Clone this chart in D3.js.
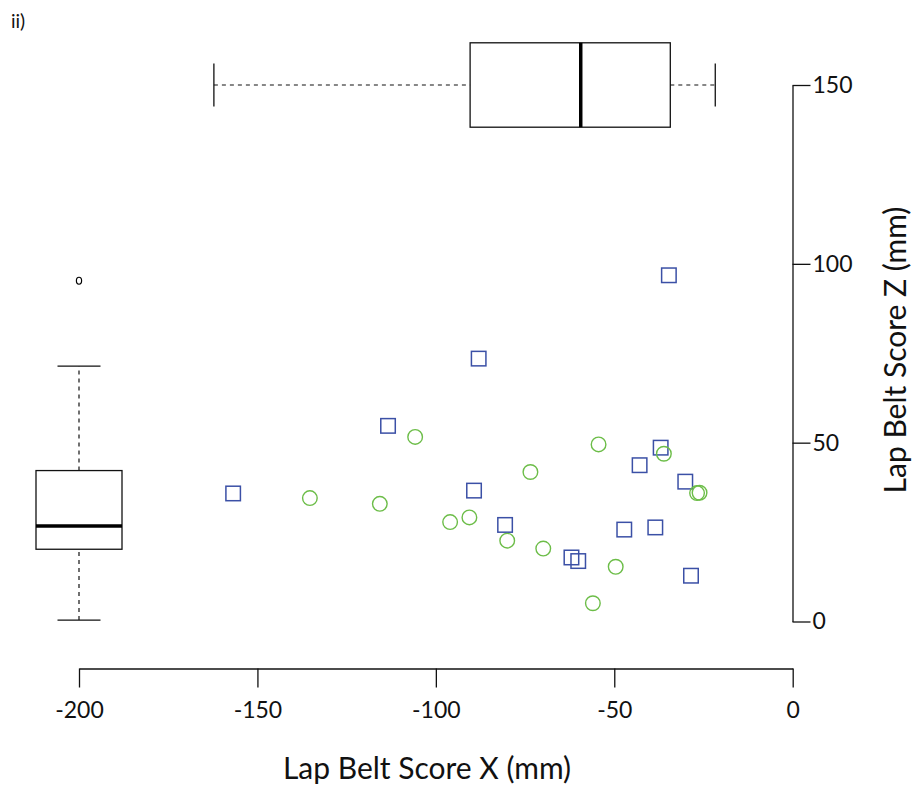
<!DOCTYPE html>
<html>
<head>
<meta charset="utf-8">
<script src="https://cdn.jsdelivr.net/npm/d3@7"></script>
<style>
    body { margin: 0; background: #fff; }
    svg { display: block; font-family: "Myriad Pro", Lato, "Open Sans", sans-serif; }
</style>
</head>
<body>
<div id="chart"></div>
<script>
// squares (blue)
const square_x = [-88.0, -113.4, -156.8, -89.3, -34.7, -37.0, -42.9, -30.1, -80.6, -62.0, -60.1, -47.2, -38.5, -28.5];
const square_z = [73.5, 54.7, 35.8, 36.6, 96.8, 48.6, 43.7, 39.1, 27.0, 17.9, 16.9, 25.7, 26.3, 12.8];
// circles (green)
const circle_x = [-105.8, -135.3, -115.7, -96.0, -90.6, -54.4, -36.1, -73.5, -26.8, -26.1, -80.0, -69.9, -49.6, -56.0];
const circle_z = [51.6, 34.5, 32.9, 27.8, 29.1, 49.5, 46.9, 41.8, 35.9, 36.0, 22.6, 20.4, 15.3, 5.1];

// box plot summaries: [whisker low, q1, median, q3, whisker high]
const box_x = [-162.2, -90.4, -59.4, -34.3, -21.7];
const box_z = [0.4, 20.2, 26.7, 42.2, 71.4];
const outliers_z = [95.3];

const x_ticks = [-200, -150, -100, -50, 0];
const z_ticks = [0, 50, 100, 150];

const width = 912;
const height = 787;

const svg = d3.select("#chart")
    .append("svg")
    .attr("width", width)
    .attr("height", height);

const x = d3.scaleLinear()
    .domain([-200, 0])
    .range([79, 792.7]);

const y = d3.scaleLinear()
    .domain([0, 150])
    .range([621.5, 85]);

const blue = "#3b50a6";
const green = "#6cbd48";

// points
const sq = 14.5;
svg.append("g")
    .selectAll("rect")
    .data(square_x)
    .join("rect")
        .attr("x", (d, i) => x(d) - sq / 2)
        .attr("y", (d, i) => y(square_z[i]) - sq / 2)
        .attr("width", sq)
        .attr("height", sq)
        .attr("fill", "none")
        .attr("stroke", blue)
        .attr("stroke-width", 1.5);

svg.append("g")
    .selectAll("circle")
    .data(circle_x)
    .join("circle")
        .attr("cx", d => x(d))
        .attr("cy", (d, i) => y(circle_z[i]))
        .attr("r", 7.3)
        .attr("fill", "none")
        .attr("stroke", green)
        .attr("stroke-width", 1.4);

// horizontal box plot of X, sits at z = 150
function hbox (g) {
    const cy = y(150);
    const hw = 42.2;
    const cap = 21.5;
    g.append("line")
        .attr("x1", x(box_x[0])).attr("x2", x(box_x[1]))
        .attr("y1", cy).attr("y2", cy)
        .attr("stroke", "#111").attr("stroke-width", 1.2).attr("stroke-dasharray", "4,4");
    g.append("line")
        .attr("x1", x(box_x[3])).attr("x2", x(box_x[4]))
        .attr("y1", cy).attr("y2", cy)
        .attr("stroke", "#111").attr("stroke-width", 1.2).attr("stroke-dasharray", "4,4");
    g.append("line")
        .attr("x1", x(box_x[0])).attr("x2", x(box_x[0]))
        .attr("y1", cy - cap).attr("y2", cy + cap)
        .attr("stroke", "#111").attr("stroke-width", 1.3);
    g.append("line")
        .attr("x1", x(box_x[4])).attr("x2", x(box_x[4]))
        .attr("y1", cy - cap).attr("y2", cy + cap)
        .attr("stroke", "#111").attr("stroke-width", 1.3);
    g.append("rect")
        .attr("x", x(box_x[1]))
        .attr("y", cy - hw)
        .attr("width", x(box_x[3]) - x(box_x[1]))
        .attr("height", hw * 2)
        .attr("fill", "none").attr("stroke", "#111").attr("stroke-width", 1.3);
    g.append("line")
        .attr("x1", x(box_x[2])).attr("x2", x(box_x[2]))
        .attr("y1", cy - hw).attr("y2", cy + hw)
        .attr("stroke", "#000").attr("stroke-width", 3.5);
}

// vertical box plot of Z, sits at x = -200
function vbox (g) {
    const cx = x(-200);
    const hw = 43;
    const cap = 21.5;
    g.append("line")
        .attr("x1", cx).attr("x2", cx)
        .attr("y1", y(box_z[0])).attr("y2", y(box_z[1]))
        .attr("stroke", "#111").attr("stroke-width", 1.2).attr("stroke-dasharray", "4,4");
    g.append("line")
        .attr("x1", cx).attr("x2", cx)
        .attr("y1", y(box_z[3])).attr("y2", y(box_z[4]))
        .attr("stroke", "#111").attr("stroke-width", 1.2).attr("stroke-dasharray", "4,4");
    g.append("line")
        .attr("x1", cx - cap).attr("x2", cx + cap)
        .attr("y1", y(box_z[0])).attr("y2", y(box_z[0]))
        .attr("stroke", "#111").attr("stroke-width", 1.3);
    g.append("line")
        .attr("x1", cx - cap).attr("x2", cx + cap)
        .attr("y1", y(box_z[4])).attr("y2", y(box_z[4]))
        .attr("stroke", "#111").attr("stroke-width", 1.3);
    g.append("rect")
        .attr("x", cx - hw)
        .attr("y", y(box_z[3]))
        .attr("width", hw * 2)
        .attr("height", y(box_z[1]) - y(box_z[3]))
        .attr("fill", "none").attr("stroke", "#111").attr("stroke-width", 1.3);
    g.append("line")
        .attr("x1", cx - hw).attr("x2", cx + hw)
        .attr("y1", y(box_z[2])).attr("y2", y(box_z[2]))
        .attr("stroke", "#000").attr("stroke-width", 3.5);
    g.selectAll("ellipse")
        .data(outliers_z)
        .join("ellipse")
            .attr("cx", cx)
            .attr("cy", d => y(d))
            .attr("rx", 2.6)
            .attr("ry", 3.4)
            .attr("fill", "none")
            .attr("stroke", "#000")
            .attr("stroke-width", 1.2);
}

svg.append("g").call(hbox);
svg.append("g").call(vbox);

// axes (plain hyphen for negatives, like the original)
function xAxis (g) {
    g.attr("transform", "translate(0,668.5)")
        .call(d3.axisBottom(x).tickValues(x_ticks).tickFormat(d => String(d))
            .tickSize(19).tickSizeOuter(0).tickPadding(14))
        .attr("font-size", "23px")
        .attr("font-family", null);
    g.select(".domain").attr("stroke", "#111").attr("stroke-width", 1.3);
    g.selectAll(".tick line").attr("stroke", "#111").attr("stroke-width", 1.3);
    g.selectAll(".tick text").attr("fill", "#111");
}

function yAxis (g) {
    g.attr("transform", "translate(792.5,0)")
        .call(d3.axisRight(y).tickValues(z_ticks).tickFormat(d => String(d))
            .tickSize(18).tickSizeOuter(0).tickPadding(2))
        .attr("font-size", "23px")
        .attr("font-family", null);
    g.select(".domain").attr("stroke", "#111").attr("stroke-width", 1.3);
    g.selectAll(".tick line").attr("stroke", "#111").attr("stroke-width", 1.3);
    g.selectAll(".tick text").attr("fill", "#111");
}

svg.append("g").call(xAxis);
svg.append("g").call(yAxis);

svg.append("text")
    .attr("x", 427)
    .attr("y", 779)
    .attr("text-anchor", "middle")
    .attr("font-size", "30px")
    .attr("fill", "#111")
    .text("Lap Belt Score X (mm)");

svg.append("text")
    .attr("transform", "translate(906,350) rotate(-90)")
    .attr("text-anchor", "middle")
    .attr("font-size", "30px")
    .attr("fill", "#111")
    .text("Lap Belt Score Z (mm)");

svg.append("text")
    .attr("x", 11)
    .attr("y", 28)
    .attr("font-size", "19px")
    .attr("fill", "#111")
    .text("ii)");
</script>
</body>
</html>
